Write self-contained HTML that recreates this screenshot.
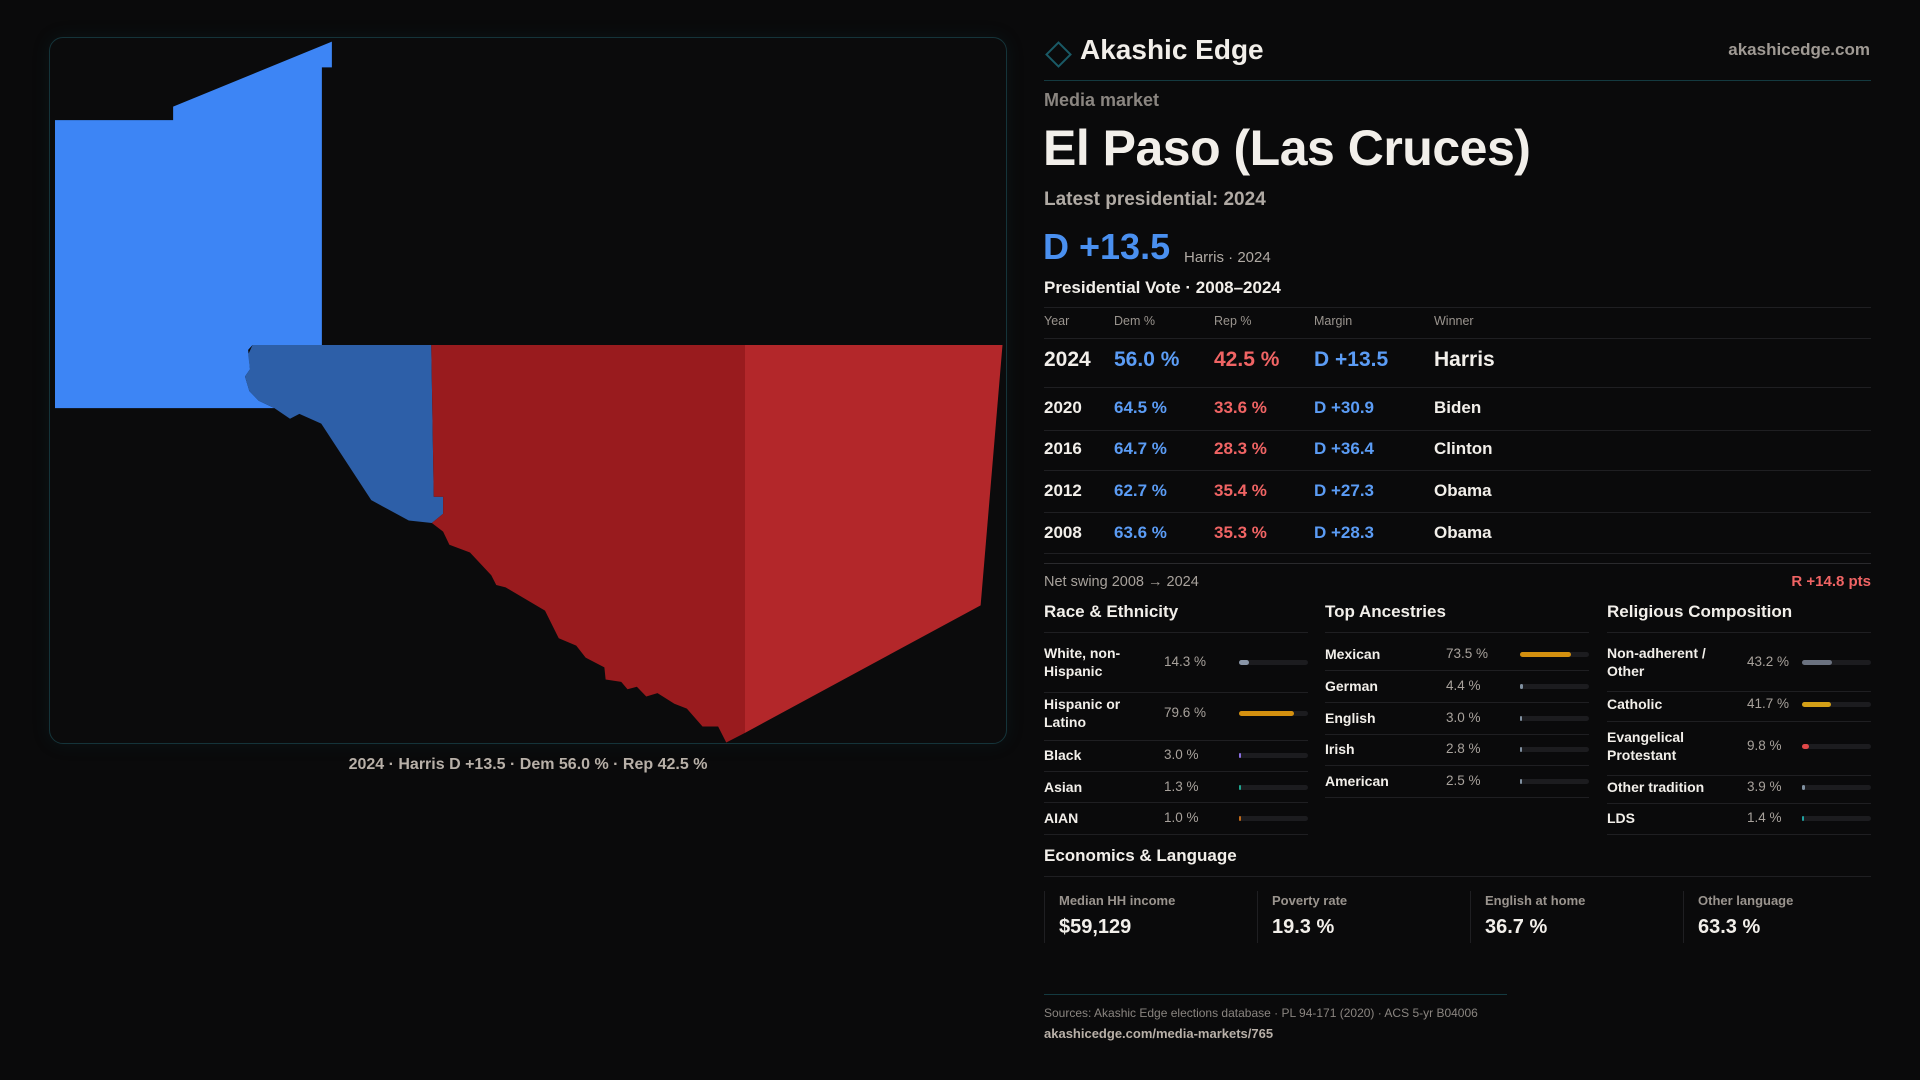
<!DOCTYPE html>
<html><head><meta charset="utf-8">
<style>
*{margin:0;padding:0;box-sizing:border-box}
body{width:1920px;height:1080px;background:#0a0a0b;font-family:"Liberation Sans",sans-serif;color:#f2efea;position:relative;overflow:hidden}
.a{position:absolute;white-space:nowrap}
.hl{position:absolute;height:1px;background:#1f1f22}
.g{color:#9a948e}
.blue{color:#5b9cf5}.red{color:#f06464}
.sec{font-size:17px;font-weight:700;color:#f2efea}
.track{position:absolute;height:5px;border-radius:3px;background:#1c1c1f}
.fill{position:absolute;left:0;top:0;height:5px;border-radius:3px}
</style></head><body>

<div class="a" style="left:49px;top:37px;width:958px;height:707px;border:1px solid #15343a;border-radius:14px;background:#0b0b0c;box-shadow:0 0 18px rgba(20,80,90,0.15)"></div>
<svg class="a" style="left:0;top:0" width="1100" height="800">
 <g transform="translate(40,30) scale(0.625,0.4847)">
  <polygon fill="#3d85f5" points="24,186 213,186 213,158 467,24 467,77 451,77 451,650 340,650 333,660 336,700 328,715 335,745 350,765 375,780 24,780"/>
  <polygon fill="#2d5fa8" points="340,650 626,650 630,963 645,963 645,998 627,1017 590,1012 530,970 450,812 415,792 400,802 375,780 350,765 335,745 328,715 336,700 333,670"/>
  <polygon fill="#991b1e" points="626,650 1128,650 1128,1450 1098,1470 1085,1437 1060,1437 1035,1400 1015,1390 988,1368 970,1375 955,1355 940,1360 930,1345 905,1340 903,1315 873,1295 858,1270 830,1255 808,1198 745,1150 730,1145 722,1125 688,1078 655,1062 645,1035 627,1017 645,998 645,963 630,963"/>
  <polygon fill="#b3272a" points="1128,650 1540,650 1505,1187 1128,1450"/>
 </g>
</svg>
<div class="a" style="left:49px;width:958px;top:756px;text-align:center;font-size:16px;font-weight:700;color:#b8b0a8">2024 · Harris D +13.5 · Dem 56.0 % · Rep 42.5 %</div>

<div class="a" style="left:1049px;top:45px;width:19px;height:19px;border:2px solid #1a5a66;transform:rotate(45deg)"></div>
<div class="a" style="left:1080px;top:34px;font-size:28px;font-weight:700">Akashic Edge</div>
<div class="a" style="right:50px;top:40px;font-size:17px;font-weight:700;color:#a09a94">akashicedge.com</div>
<div class="hl" style="left:1044px;width:827px;top:80px;background:#143a40"></div>

<div class="a g" style="left:1044px;top:90px;font-size:18px;font-weight:700;color:#8a8580">Media market</div>
<div class="a" style="left:1043px;top:119px;font-size:50px;font-weight:700;letter-spacing:-0.5px">El Paso (Las Cruces)</div>
<div class="a" style="left:1044px;top:189px;font-size:19px;font-weight:700;color:#b0aaa4">Latest presidential: 2024</div>
<div class="a blue" style="left:1043px;top:226px;font-size:36px;font-weight:700;color:#4a90f0">D +13.5</div>
<div class="a" style="left:1184px;top:249px;font-size:15px;color:#b0aaa4">Harris · 2024</div>
<div class="a" style="left:1044px;top:278px;font-size:17px;font-weight:700">Presidential Vote · 2008–2024</div>
<div class="hl" style="left:1044px;width:827px;top:307px"></div>
<div id="vt"></div>

<div class="a" style="left:1044px;top:574px;font-size:14.5px;color:#a8a29c">Net swing 2008 → 2024</div>
<div class="a red" style="right:49px;top:573px;font-size:15px;font-weight:700;color:#f06464">R +14.8 pts</div>

<div class="a sec" style="left:1044px;top:602px">Race &amp; Ethnicity</div>
<div class="a sec" style="left:1325px;top:602px">Top Ancestries</div>
<div class="a sec" style="left:1607px;top:602px">Religious Composition</div>
<div id="demo"></div>

<div class="a sec" style="left:1044px;top:846px">Economics &amp; Language</div>
<div class="hl" style="left:1044px;width:827px;top:876px"></div>
<div id="econ"></div>

<div class="hl" style="left:1044px;width:463px;top:994px;background:#143a40"></div>
<div class="a" style="left:1044px;top:1006px;font-size:12px;color:#8a8580">Sources: Akashic Edge elections database · PL 94-171 (2020) · ACS 5-yr B04006</div>
<div class="a" style="left:1044px;top:1026px;font-size:13px;font-weight:700;color:#b8b0a8">akashicedge.com/media-markets/765</div>

<script>
const years=["2024","2020","2016","2012","2008"];
const demPct=[56.0,64.5,64.7,62.7,63.6];
const repPct=[42.5,33.6,28.3,35.4,35.3];
const winners=["Harris","Biden","Clinton","Obama","Obama"];
const raceLabels=["White, non-<br>Hispanic","Hispanic or<br>Latino","Black","Asian","AIAN"];
const raceVals=[14.3,79.6,3.0,1.3,1.0];
const raceColors=["#8a96a8","#d4900f","#8b6fe0","#1fa58f","#c06a1a"];
const ancLabels=["Mexican","German","English","Irish","American"];
const ancVals=[73.5,4.4,3.0,2.8,2.5];
const ancColors=["#d4900f","#8090a0","#8090a0","#8090a0","#8090a0"];
const relLabels=["Non-adherent /<br>Other","Catholic","Evangelical<br>Protestant","Other tradition","LDS"];
const relVals=[43.2,41.7,9.8,3.9,1.4];
const relColors=["#6b7280","#d4a017","#e04848","#8090a0","#20a0a0"];
const econLabels=["Median HH income","Poverty rate","English at home","Other language"];
const econVals=["$59,129","19.3 %","36.7 %","63.3 %"];

function mk(parent,html,style){const d=document.createElement('div');d.className='a';d.innerHTML=html;d.style.cssText=style;parent.appendChild(d);return d;}
const vt=document.getElementById('vt');
const hdr=["Year","Dem %","Rep %","Margin","Winner"],cx=[1044,1114,1214,1314,1434];
hdr.forEach((h,i)=>{const e=mk(vt,h,`left:${cx[i]}px;top:314px;font-size:12.5px;color:#9a948e`);

});
const l0=mk(vt,'',`left:1044px;width:827px;top:338px;height:1px;background:#1f1f22`);


const rowC=[361,408,449,491,533],rowL=[387,430,470,512,553];
years.forEach((y,i)=>{
 const big=i===0,fs=big?21:17,t=rowC[i]-fs*0.6;
 const m=demPct[i]-repPct[i];
 const vals=[y,demPct[i].toFixed(1)+' %',repPct[i].toFixed(1)+' %','D +'+m.toFixed(1),winners[i]];
 const cols=['#f2efea','#5b9cf5','#f06464','#5b9cf5','#f2efea'];
 vals.forEach((v,j)=>{const e=mk(vt,v,`left:${cx[j]}px;top:${t}px;font-size:${fs}px;font-weight:700;color:${cols[j]}`);
 
 });
 const l=mk(vt,'',`left:1044px;width:827px;top:${rowL[i]}px;height:1px;background:#1f1f22`);
 
 
});
const l6=mk(vt,'',`left:1044px;width:827px;top:563px;height:1px;background:#2a2a2d`);



const demo=document.getElementById('demo');
function section(name,x,pctX,barX,labels,vals,colors,centers,lines){
 const top=mk(demo,'',`left:${x}px;width:${barX+69-x}px;top:632px;height:1px;background:#1f1f22`);
 
 
 labels.forEach((lb,i)=>{
  const two=lb.includes('<br>');const c=centers[i];
  const e=mk(demo,lb,`left:${x}px;top:${c-(two?18:9)}px;font-size:14px;font-weight:700;line-height:18px`);
  
  
  const p=mk(demo,vals[i].toFixed(1)+' %',`left:${pctX}px;top:${c-9}px;font-size:13.5px;line-height:18px;color:#a8a29c`);
  
  
  const tr=mk(demo,'',`left:${barX}px;top:${c-2}px;width:69px;height:5px;border-radius:3px;background:#1c1c1f`);
  
  
  const f=document.createElement('div');f.className='fill';
  f.style.width=Math.max(2,69*vals[i]/100)+'px';f.style.background=colors[i];
  
  
  tr.appendChild(f);
  const l=mk(demo,'',`left:${x}px;width:${barX+69-x}px;top:${lines[i]}px;height:1px;background:#1f1f22`);
  
  
 });
}
section('race',1044,1164,1239,raceLabels,raceVals,raceColors,[662,713,755,787,818],[692,740,771,802,834]);
section('ancestry',1325,1446,1520,ancLabels,ancVals,ancColors,[654,686,718,749,781],[670,702,734,765,797]);
section('religion',1607,1747,1802,relLabels,relVals,relColors,[662,704,746,787,818],[691,721,775,803,834]);

const econ=document.getElementById('econ');
econLabels.forEach((lb,i)=>{
 const x=1044+i*213;
 const c=mk(econ,'',`left:${x}px;top:891px;width:213px;height:52px;border-left:1px solid #1f1f22`);
 
 
 const a=mk(econ,lb,`left:${x+15}px;top:893px;font-size:13px;font-weight:700;color:#9a948e`);
 
 
 const v=mk(econ,econVals[i],`left:${x+15}px;top:916px;font-size:20px;font-weight:700`);
 
 
});
</script>
</body></html>
